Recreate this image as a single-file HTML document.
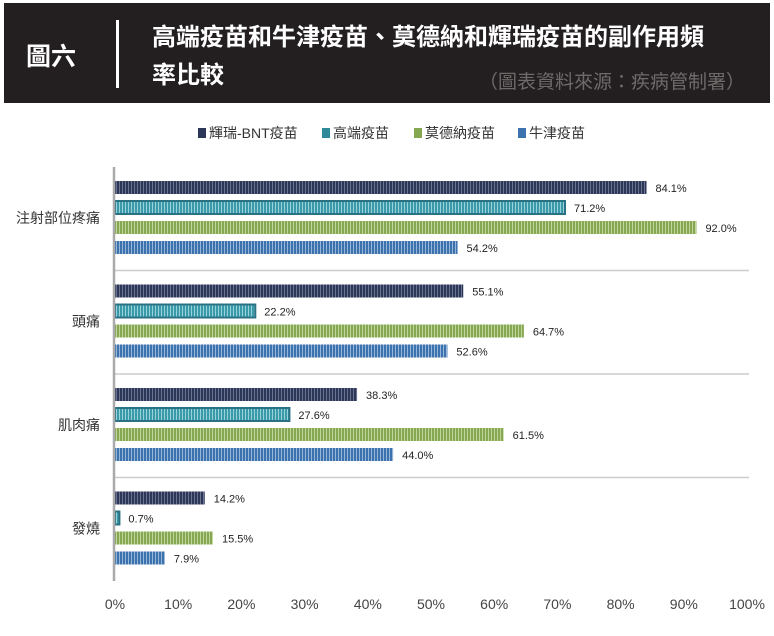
<!DOCTYPE html>
<html><head><meta charset="utf-8"><style>
body{margin:0;background:#fff;width:774px;height:631px;overflow:hidden;font-family:"Liberation Sans","Noto Sans CJK TC",sans-serif}
</style></head><body>
<svg width="774" height="631" xmlns="http://www.w3.org/2000/svg">
<defs>
<pattern id="p0" width="3" height="4" patternUnits="userSpaceOnUse"><rect width="3" height="4" fill="#2c3656"/><rect x="2" width="1" height="4" fill="#6a7390"/></pattern>
<pattern id="p1" width="3" height="4" patternUnits="userSpaceOnUse"><rect width="3" height="4" fill="#3a9aaa"/><rect x="2" width="1" height="4" fill="#9ad2da"/></pattern>
<pattern id="p2" width="3" height="4" patternUnits="userSpaceOnUse"><rect width="3" height="4" fill="#86a853"/><rect x="2" width="1" height="4" fill="#c0d49a"/></pattern>
<pattern id="p3" width="3" height="4" patternUnits="userSpaceOnUse"><rect width="3" height="4" fill="#3c72ae"/><rect x="2" width="1" height="4" fill="#98b6d8"/></pattern>
</defs>
<rect x="4" y="3" width="766" height="100" fill="#231f20"/>
<text x="26" y="65" fill="#fff" font-size="25" font-weight="bold" font-family="Liberation Sans,Noto Sans CJK TC,sans-serif">圖六</text>
<rect x="116" y="20" width="3" height="68" fill="#fff"/>
<text x="152" y="45" fill="#fff" font-size="24" font-weight="bold" font-family="Liberation Sans,Noto Sans CJK TC,sans-serif">高端疫苗和牛津疫苗、莫德納和輝瑞疫苗的副作用頻</text>
<text x="152" y="83" fill="#fff" font-size="24" font-weight="bold" font-family="Liberation Sans,Noto Sans CJK TC,sans-serif">率比較</text>
<text x="745" y="88" fill="#6e6a6a" font-size="19" text-anchor="end" font-family="Liberation Sans,Noto Sans CJK TC,sans-serif">（圖表資料來源：疾病管制署）</text>
<g id="legend" font-size="14" fill="#333" font-family="Liberation Sans,Noto Sans CJK TC,sans-serif"></g>
<g id="plot"></g>
</svg>
<script>
const categories=["注射部位疼痛","頭痛","肌肉痛","發燒"];
const seriesNames=["輝瑞-BNT疫苗","高端疫苗","莫德納疫苗","牛津疫苗"];
const pfizer=[84.1,55.1,38.3,14.2];
const medigen=[71.2,22.2,27.6,0.7];
const moderna=[92.0,64.7,61.5,15.5];
const az=[54.2,52.6,44.0,7.9];
const ticks=[0,10,20,30,40,50,60,70,80,90,100];
const series=[pfizer,medigen,moderna,az];
const NS="http://www.w3.org/2000/svg";
const x0=115,x1=747,gTop=167,gH=103.5;
const xs=v=>x0+(x1-x0)*v/100;
const plot=document.getElementById('plot');
function mk(t,a,p){const e=document.createElementNS(NS,t);for(const k in a)e.setAttribute(k,a[k]);(p||plot).appendChild(e);return e;}
// legend
const legX=[198,322,414,518],lc=["#2c3656","#2f8a9a","#86a853","#3c72ae"];
const leg=document.getElementById('legend');
seriesNames.forEach((n,i)=>{
 const r=mk('rect',{x:legX[i],y:128,width:8,height:10,fill:lc[i]},leg);
 
 
 const t=mk('text',{x:legX[i]+11,y:138},leg);t.textContent=n;
 
 
});
// separators
for(let g=1;g<categories.length;g++){
 const l=mk('line',{x1:x0,x2:749,y1:gTop+g*gH,y2:gTop+g*gH,stroke:"#ccc","stroke-width":1.5});
 
 
}
categories.forEach((c,g)=>{
 const t=mk('text',{x:100,y:gTop+g*gH+56,"text-anchor":"end","font-size":14,fill:"#333"});t.textContent=c;
 
 
 series.forEach((s,i)=>{
  const y=gTop+g*gH+14+i*20;
  const w=xs(s[g])-x0;
  const r=mk('rect',{x:x0,y:y,width:w,height:13,fill:`url(#p${i})`,stroke:i==1?"#2a7184":"none","stroke-width":i==1?2:0});
  
  
  const v=mk('text',{x:xs(s[g])+9,y:y+11,"font-size":11,fill:"#222"});v.textContent=s[g].toFixed(1)+"%";
  
  
 });
});
const ax=mk('line',{x1:x0-1,x2:x0-1,y1:167,y2:581,stroke:"#aaa","stroke-width":2.5});


ticks.forEach(t=>{
 const e=mk('text',{x:xs(t),y:609,"text-anchor":"middle","font-size":14,fill:"#444"});e.textContent=t+"%";
 
 
});
</script>
</body></html>
